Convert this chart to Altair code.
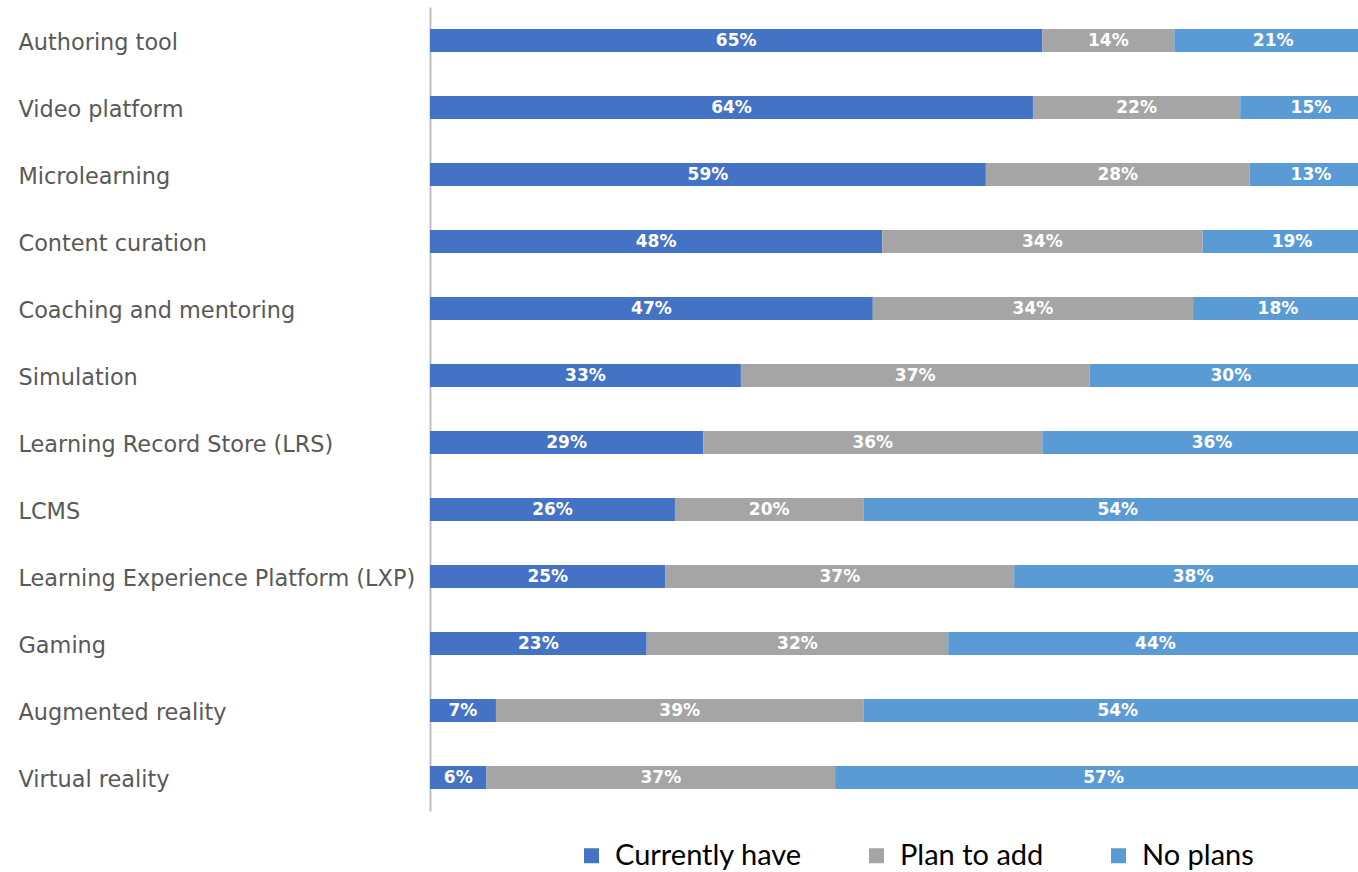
import altair as alt
import pandas as pd

categories = [
    "Authoring tool",
    "Video platform",
    "Microlearning",
    "Content curation",
    "Coaching and mentoring",
    "Simulation",
    "Learning Record Store (LRS)",
    "LCMS",
    "Learning Experience Platform (LXP)",
    "Gaming",
    "Augmented reality",
    "Virtual reality",
]
currently_have = [65, 64, 59, 48, 47, 33, 29, 26, 25, 23, 7, 6]
plan_to_add = [14, 22, 28, 34, 34, 37, 36, 20, 37, 32, 39, 37]
no_plans = [21, 15, 13, 19, 18, 30, 36, 54, 38, 44, 54, 57]

series_names = ["Currently have", "Plan to add", "No plans"]
series_colors = ["#4472C4", "#A5A5A5", "#5B9BD5"]

rows = []
for i, cat in enumerate(categories):
    start = 0
    for name, vals in zip(series_names, [currently_have, plan_to_add, no_plans]):
        v = vals[i]
        rows.append({
            "category": cat,
            "series": name,
            "value": v,
            "start": start,
            "end": start + v,
            "mid": start + v / 2,
            "label": f"{v}%",
        })
        start += v
df = pd.DataFrame(rows)

y_enc = alt.Y(
    "category:N",
    sort=categories,
    scale=alt.Scale(paddingInner=0.657, paddingOuter=0.3285),
    axis=alt.Axis(
        title=None,
        labelAlign="left",
        labelBaseline="middle",
        labelPadding=412,
        labelOffset=2,
        labelLimit=450,
        ticks=False,
        grid=False,
        domainColor="#BFBFBF",
        domainWidth=2,
        labelFont="DejaVu Sans",
        labelFontSize=22.4,
        labelColor="#595959",
    ),
)
x_scale = alt.Scale(domain=[0, 98.5], nice=False, zero=True)

base = alt.Chart(df)

bars = base.mark_bar(clip=True).encode(
    y=y_enc,
    x=alt.X("start:Q", scale=x_scale, axis=None),
    x2="end:Q",
    color=alt.Color(
        "series:N",
        scale=alt.Scale(domain=series_names, range=series_colors),
        legend=alt.Legend(
            title=None,
            orient="none",
            legendX=147,
            legendY=834,
            direction="horizontal",
            columns=3,
            symbolType="square",
            symbolSize=225,
            symbolStrokeWidth=0,
            labelFont="Lato",
            labelFontSize=29,
            labelColor="#000000",
            labelOffset=9,
            labelLimit=400,
            columnPadding=60,
            padding=0,
        ),
    ),
)

labels = base.mark_text(
    color="white", font="DejaVu Sans", fontWeight="bold", fontSize=17, baseline="middle"
).encode(
    y=alt.Y("category:N", sort=categories),
    x=alt.X("mid:Q", scale=x_scale),
    text="label:N",
)

chart = (
    alt.layer(bars, labels)
    .properties(
        width=928,
        height=804,
        padding={"left": 18, "top": 7, "right": 0, "bottom": 0},
        background="white",
    )
    .configure_view(stroke=None)
)

chart.save("out.html", embed_options={"renderer": "svg", "actions": False})
